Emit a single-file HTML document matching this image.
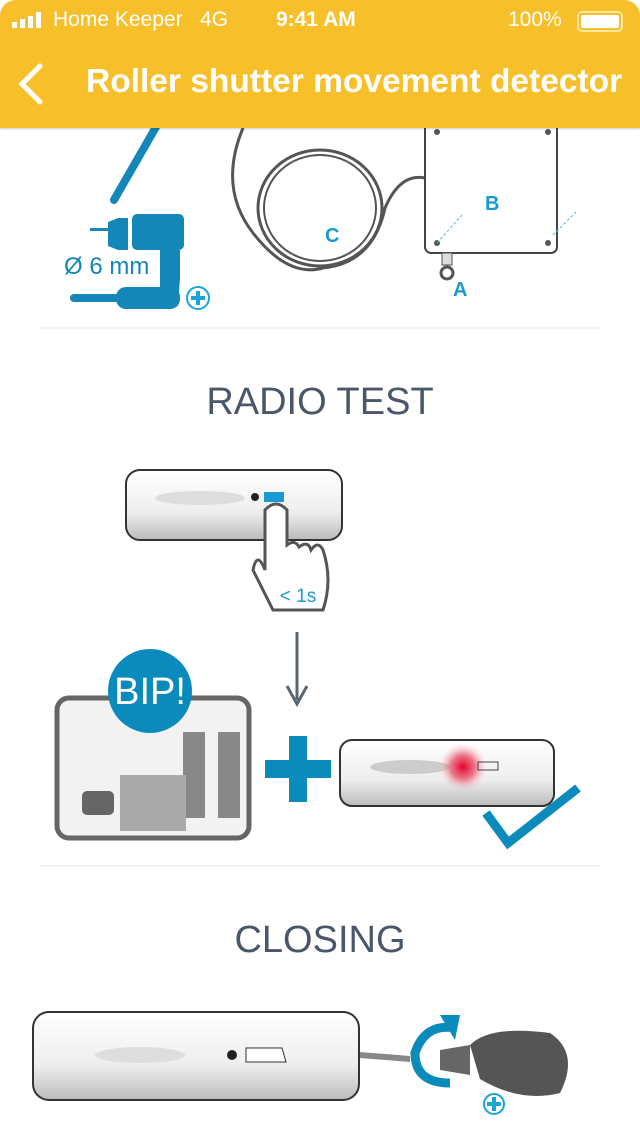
<!DOCTYPE html>
<html><head><meta charset="utf-8"><style>
html,body{margin:0;padding:0;background:#fff}
body{width:640px;height:1136px;position:relative;overflow:hidden;font-family:"Liberation Sans",sans-serif}
#hdr{position:absolute;left:0;top:0;width:640px;height:128px;background:#f7c02b;border-radius:16px 16px 0 0;color:#fff;z-index:2;box-shadow:0 1px 2px rgba(0,0,0,.2)}
.t{position:absolute;white-space:nowrap}
</style></head><body>
<svg style="position:absolute;left:0;top:0" width="640" height="1136" viewBox="0 0 640 1136">
<!-- top tools -->
<line x1="160" y1="120" x2="114" y2="200" stroke="#1287b8" stroke-width="8" stroke-linecap="round"/>
<rect x="90" y="228" width="18" height="3" fill="#1287b8"/>
<path d="M108 222l10 -4h10v32h-10l-10-4z" fill="#1287b8"/>
<rect x="132" y="214" width="52" height="36" rx="5" fill="#1287b8"/>
<path d="M160 250h20v28l-2 28l-18-4z" fill="#1287b8"/>
<text x="64" y="274" font-size="24" fill="#1287b8">Ø 6 mm</text>
<rect x="70" y="294" width="50" height="8" rx="4" fill="#1287b8"/>
<rect x="116" y="287" width="64" height="22" rx="10" fill="#1287b8"/>
<circle cx="198" cy="298" r="11" fill="none" stroke="#1aa5d8" stroke-width="2"/>
<path d="M198 291v14M191 298h14" stroke="#1aa5d8" stroke-width="4"/>
<!-- coil -->
<path d="M243 128q-25 60 10 105t70 35q50 -5 62 -60q15 -35 40 -30" fill="none" stroke="#555" stroke-width="3"/>
<ellipse cx="320" cy="208" rx="62" ry="58" fill="none" stroke="#555" stroke-width="3"/>
<ellipse cx="320" cy="208" rx="56" ry="53" fill="none" stroke="#555" stroke-width="2"/>
<text x="325" y="242" font-size="20" font-weight="bold" fill="#1a9ad0">C</text>
<rect x="425" y="118" width="132" height="135" rx="6" fill="#fff" stroke="#444" stroke-width="2"/>
<circle cx="437" cy="132" r="3" fill="#555"/><circle cx="548" cy="132" r="3" fill="#555"/>
<circle cx="437" cy="243" r="3" fill="#555"/><circle cx="548" cy="243" r="3" fill="#555"/>
<line x1="437" y1="243" x2="462" y2="215" stroke="#5ab8e0" stroke-dasharray="3 2"/>
<line x1="553" y1="235" x2="576" y2="212" stroke="#5ab8e0" stroke-dasharray="3 2"/>
<text x="485" y="210" font-size="20" font-weight="bold" fill="#1a9ad0">B</text>
<text x="453" y="296" font-size="20" font-weight="bold" fill="#1a9ad0">A</text>
<circle cx="447" cy="273" r="6" fill="none" stroke="#555" stroke-width="3"/>
<rect x="442" y="253" width="10" height="12" fill="#ddd" stroke="#555"/>
<line x1="40" y1="328" x2="600" y2="328" stroke="#eee" stroke-width="1.5"/>
<text x="320" y="414" font-size="38" fill="#4a5669" text-anchor="middle">RADIO TEST</text>
<defs><linearGradient id="g" x1="0" y1="0" x2="0" y2="1"><stop offset="0" stop-color="#fff"/><stop offset=".6" stop-color="#eee"/><stop offset="1" stop-color="#bbb"/></linearGradient>
<radialGradient id="r"><stop offset="0" stop-color="#e0002a"/><stop offset=".5" stop-color="#e8405a" stop-opacity=".7"/><stop offset="1" stop-color="#f8c0c8" stop-opacity="0"/></radialGradient></defs>
<rect x="126" y="470" width="216" height="70" rx="14" fill="url(#g)" stroke="#333" stroke-width="2"/>
<ellipse cx="200" cy="498" rx="45" ry="7" fill="#ddd"/>
<circle cx="255" cy="497" r="4" fill="#222"/>
<rect x="264" y="492" width="20" height="10" fill="#1a9ad0"/>
<path d="M265 510v60q-8-20-12 0l20 40h50q10-30 0-60q-5-10-12 0q-3-10-12-3q-4-8-12-2v-35q-11-12-22 0z" fill="#fff" stroke="#555" stroke-width="3"/>
<text x="298" y="602" font-size="19" fill="#1a9ad0" text-anchor="middle">&lt; 1s</text>
<line x1="297" y1="632" x2="297" y2="700" stroke="#5a6770" stroke-width="3"/>
<path d="M287 686l10 18 10-18" fill="none" stroke="#5a6770" stroke-width="3"/>
<rect x="57" y="698" width="192" height="140" rx="12" fill="#f2f2f2" stroke="#666" stroke-width="5"/>
<rect x="183" y="732" width="22" height="86" fill="#888"/><rect x="218" y="732" width="22" height="86" fill="#888"/>
<rect x="120" y="775" width="66" height="56" fill="#aaa"/>
<rect x="82" y="791" width="32" height="24" rx="5" fill="#666"/>
<circle cx="150" cy="691" r="42" fill="#0a8bbc"/>
<text x="150" y="704" font-size="38" fill="#fff" text-anchor="middle">BIP!</text>
<rect x="265" y="760" width="66" height="18" fill="#0a8bbc"/><rect x="289" y="736" width="18" height="66" fill="#0a8bbc"/>
<rect x="340" y="740" width="214" height="66" rx="12" fill="url(#g)" stroke="#333" stroke-width="2"/>
<ellipse cx="410" cy="767" rx="40" ry="7" fill="#ccc"/>
<circle cx="463" cy="767" r="24" fill="url(#r)"/>
<rect x="478" y="762" width="20" height="8" fill="none" stroke="#444"/>
<path d="M486 813l22 30 70-55" fill="none" stroke="#0a8bbc" stroke-width="9"/>
<line x1="40" y1="866" x2="600" y2="866" stroke="#eee" stroke-width="1.5"/>
<text x="320" y="952" font-size="38" fill="#4a5669" text-anchor="middle">CLOSING</text>
<rect x="33" y="1012" width="326" height="88" rx="16" fill="url(#g)" stroke="#333" stroke-width="2"/>
<ellipse cx="140" cy="1055" rx="45" ry="8" fill="#ddd"/>
<circle cx="232" cy="1055" r="5" fill="#222"/>
<path d="M246 1048h36l4 14h-40z" fill="#fff" stroke="#333"/>
<path d="M360 1052l50 4v6l-50-4z" fill="#888"/>
<path d="M470 1045q20-20 80-12q30 20 10 60q-40 10-80-14z" fill="#555"/>
<path d="M440 1050l30-5v30l-30-5z" fill="#666"/>
<path d="M455 1028q-30-5-40 25q0 30 35 30" fill="none" stroke="#0a8bbc" stroke-width="9"/>
<path d="M440 1015l20 0-5 25z" fill="#0a8bbc"/>
<circle cx="494" cy="1104" r="10" fill="none" stroke="#1aa5d8" stroke-width="2"/>
<path d="M494 1097v14M487 1104h14" stroke="#1aa5d8" stroke-width="4"/>
</svg>
<div id="hdr">
<div class="t" style="left:12px;top:12px;display:flex;gap:3px;align-items:flex-end;height:16px">
<span style="width:5px;height:6px;background:#fff;display:block"></span><span style="width:5px;height:9px;background:#fff;display:block"></span><span style="width:5px;height:12px;background:#fff;display:block"></span><span style="width:5px;height:16px;background:#fff;display:block"></span></div>
<div class="t" style="left:53px;top:8px;font-size:21px">Home Keeper&nbsp;&nbsp;&nbsp;4G</div>
<div class="t" style="left:276px;top:8px;font-size:21px;font-weight:bold">9:41 AM</div>
<div class="t" style="left:508px;top:8px;font-size:21px">100%</div>
<div class="t" style="left:577px;top:11px;width:42px;height:17px;border:2px solid #fce6a0;border-radius:5px"><div style="margin:2px;height:13px;background:#fff;border-radius:2px"></div></div>
<svg class="t" style="left:14px;top:62px" width="30" height="44"><path d="M26 4L8 22l18 18" fill="none" stroke="#fff" stroke-width="5" stroke-linecap="round"/></svg>
<div class="t" style="left:86px;top:63px;font-size:33.5px;font-weight:bold">Roller shutter movement detector</div>
</div>
</body></html>
